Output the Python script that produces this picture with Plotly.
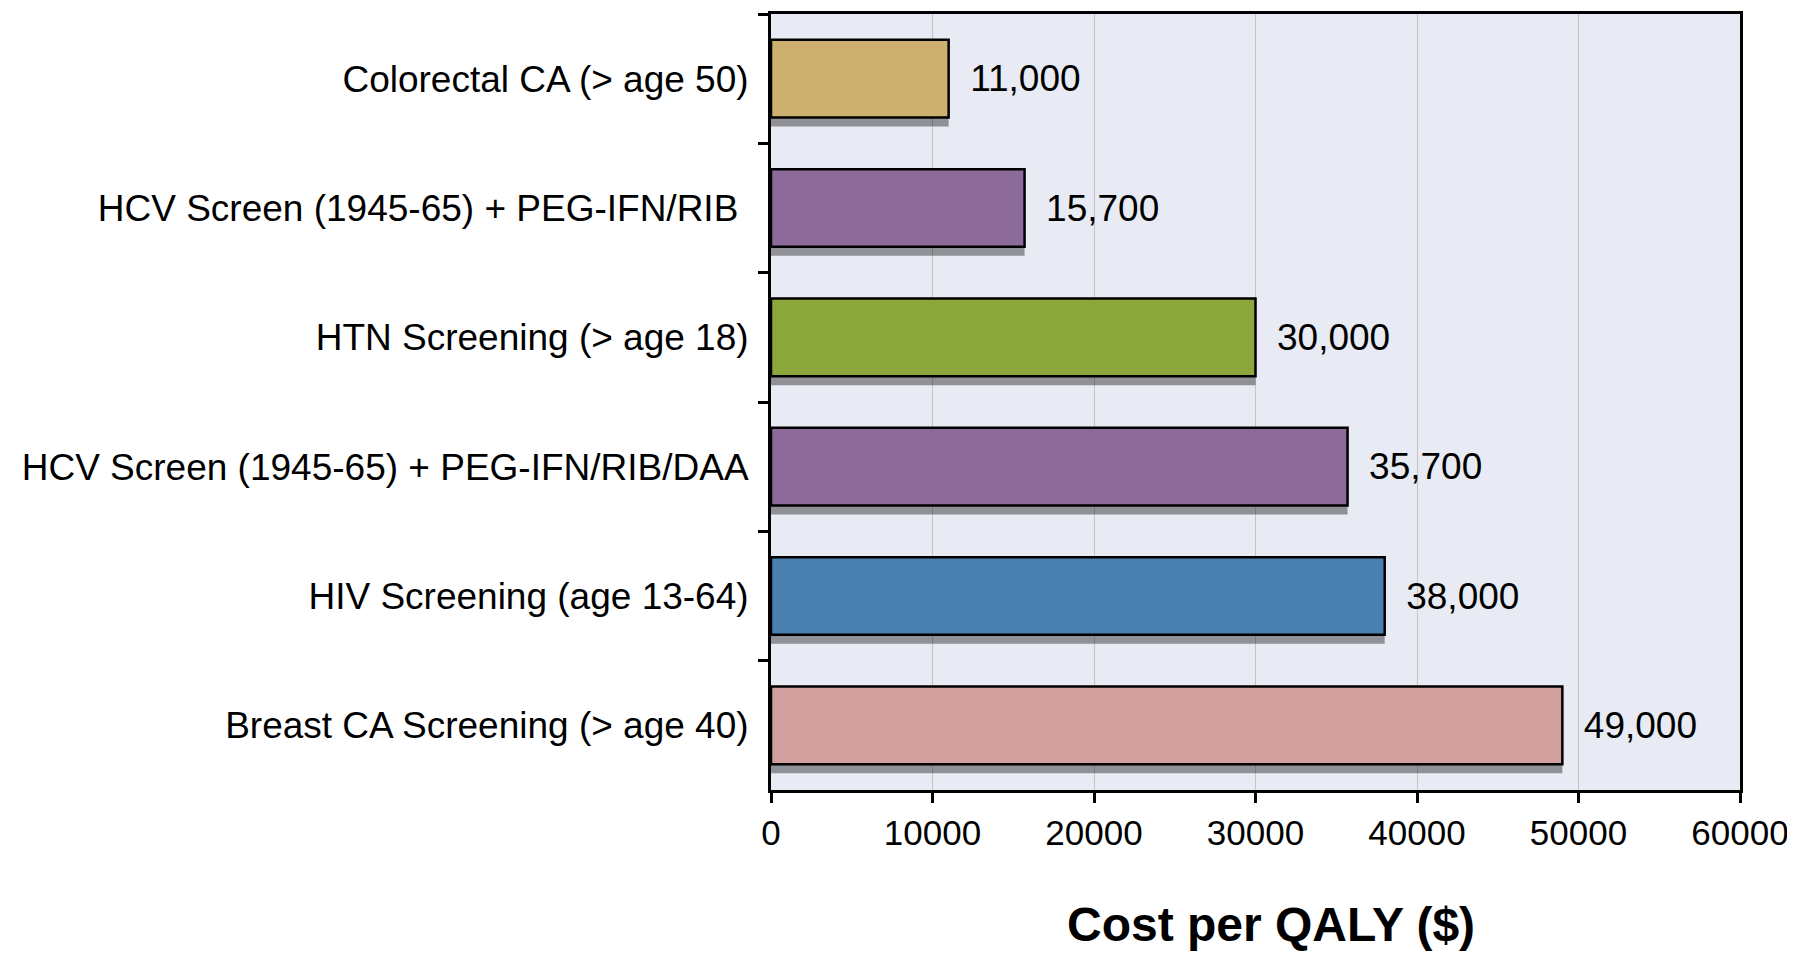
import plotly.graph_objects as go

categories = [
    "Colorectal CA (> age 50)",
    "HCV Screen (1945-65) + PEG-IFN/RIB ",
    "HTN Screening (> age 18)",
    "HCV Screen (1945-65) + PEG-IFN/RIB/DAA",
    "HIV Screening (age 13-64)",
    "Breast CA Screening (> age 40)",
]
values = [11000, 15700, 30000, 35700, 38000, 49000]
colors = ["#CDAF6F", "#8C6A9A", "#8CA73C", "#8C6A9A", "#4A80B1", "#D09F9E"]
x_ticks = [0, 10000, 20000, 30000, 40000, 50000, 60000]
x_title = "Cost per QALY ($)"

FONT = "Liberation Sans, Arial, sans-serif"

fig = go.Figure()
# soft shadow under bars
fig.add_trace(go.Bar(
    y=categories, x=values, orientation="h", width=0.62, offset=-0.25,
    marker=dict(color="rgba(0,0,0,0.38)", line=dict(width=0)),
    hoverinfo="skip", showlegend=False,
))
fig.add_trace(go.Bar(
    y=categories, x=values, orientation="h", width=0.6,
    marker=dict(color=colors, line=dict(color="black", width=2.5)),
    text=values, texttemplate="\u2002%{x:,}", textposition="outside",
    textfont=dict(family=FONT, size=37, color="black"),
    cliponaxis=False, showlegend=False,
))

fig.update_layout(
    width=1795, height=953,
    margin=dict(l=763, r=63, t=3, b=171),
    paper_bgcolor="white", plot_bgcolor="#E8EBF3",
    barmode="overlay",
    font=dict(family=FONT, size=37, color="black"),
    annotations=[dict(
        text="<b>" + x_title + "</b>", xref="paper", yref="paper",
        x=0.516, y=-0.173, xanchor="center", yanchor="middle",
        showarrow=False, font=dict(size=48, color="black"),
    )],
)
fig.update_xaxes(
    range=[0, 60000], tickvals=x_ticks, ticktext=[str(v) for v in x_ticks],
    showgrid=True, gridcolor="#C4C4C4", gridwidth=1,
    showline=True, linecolor="black", linewidth=3, mirror=True,
    ticks="outside", ticklen=10, tickwidth=3, tickcolor="black",
    tickfont=dict(size=35), zeroline=False,
)
fig.update_yaxes(
    categoryorder="array", categoryarray=categories, autorange="reversed",
    showline=True, linecolor="black", linewidth=3, mirror=True,
    ticks="outside", ticklen=10, tickwidth=3, tickcolor="black",
    tickson="boundaries", showgrid=False,
    tickfont=dict(size=37), ticklabelstandoff=12,
)

fig.write_html("out.html")
